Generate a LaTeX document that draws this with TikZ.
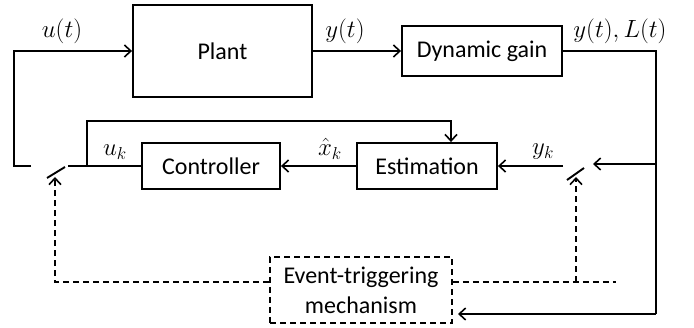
\documentclass[tikz,border=0pt]{standalone}
\usepackage{fontspec}
\setmainfont{Carlito}
\usetikzlibrary{arrows.meta}
\begin{document}
\begin{tikzpicture}[x=1pt,y=-1pt,
  every node/.style={font=\fontsize{24}{28}\selectfont},
  blk/.style={draw,line width=1.9pt,inner sep=0pt,anchor=center},
  wire/.style={line width=1.9pt},
  arr/.style={wire,-{Straight Barb[length=6.5pt,width=12pt,line width=1.6pt]}},
  dsh/.style={line width=1.9pt,dash pattern=on 6pt off 4pt},
  darr/.style={dsh,-{Straight Barb[length=6.5pt,width=12pt,line width=1.6pt]}},
  lbl/.style={inner sep=0pt,anchor=center}]
\useasboundingbox (0,0) rectangle (694,328);
% blocks
\node[blk,minimum width=179pt,minimum height=92pt] (plant) at (222.5,51) {Plant};
\node[blk,minimum width=160pt,minimum height=50pt] (dgain) at (482,51) {Dynamic gain};
\node[blk,minimum width=138pt,minimum height=46pt] (ctrl) at (211,166) {Controller};
\node[blk,minimum width=140pt,minimum height=46pt] (est) at (427,166) {Estimation};
\node[blk,dsh,minimum width=182pt,minimum height=66pt,align=center,
  font=\fontsize{24}{30}\selectfont] (etm) at (361,290) {Event-triggering\\mechanism};
% coordinates
\coordinate (lc) at (31,166);
\coordinate (lbA) at (47,178);
\coordinate (lbB) at (65,167);
\coordinate (rc) at (68,166);
\coordinate (br) at (87,166);
\coordinate (rsc) at (563,166);
\coordinate (rbA) at (567,180);
\coordinate (rbB) at (584,168);
\coordinate (rin) at (593,164);
\coordinate (tapR) at (656,164);
\coordinate (cornR) at (656,51);
\coordinate (cornB) at (656,314);
\coordinate (etmin) at (458,314);
\coordinate (estin) at (451,121);
\coordinate (dl) at (55,282);
\coordinate (dlt) at (55,177);
\coordinate (dr) at (576,282);
\coordinate (drt) at (576,177);
\coordinate (dre) at (616,282);
% solid connectors
\draw[arr] (lc) -- (14,166) |- (plant.west);
\draw[wire] (lbA) -- (lbB);
\draw[wire] (ctrl.west) -- (rc);
\draw[arr] (br) |- (estin) -- (estin |- est.north);
\draw[arr] (est.west) -- (ctrl.east);
\draw[arr] (rsc) -- (est.east);
\draw[wire] (rbA) -- (rbB);
\draw[arr] (plant.east) -- (dgain.west);
\draw[wire] (dgain.east) -- (cornR) -- (cornB);
\draw[arr] (cornB) -- (etmin);
\draw[arr] (tapR) -- (rin);
% dashed connectors
\draw[darr] (etm.west |- dl) -- (dl) -- (dlt);
\draw[dsh] (etm.east |- dre) -- (dre);
\draw[darr] (dr) -- (drt);
% labels
\node[lbl] (lu) at (62,31) {$u(t)$};
\node[lbl] (ly) at (345,31) {$y(t)$};
\node[lbl] (lyl) at (620,31) {$y(t),L(t)$};
\node[lbl] (luk) at (115,152) {$u_k$};
\node[lbl] (lxk) at (330,149) {$\hat{x}_k$};
\node[lbl] (lyk) at (543,152) {$y_k$};
\end{tikzpicture}
\end{document}
